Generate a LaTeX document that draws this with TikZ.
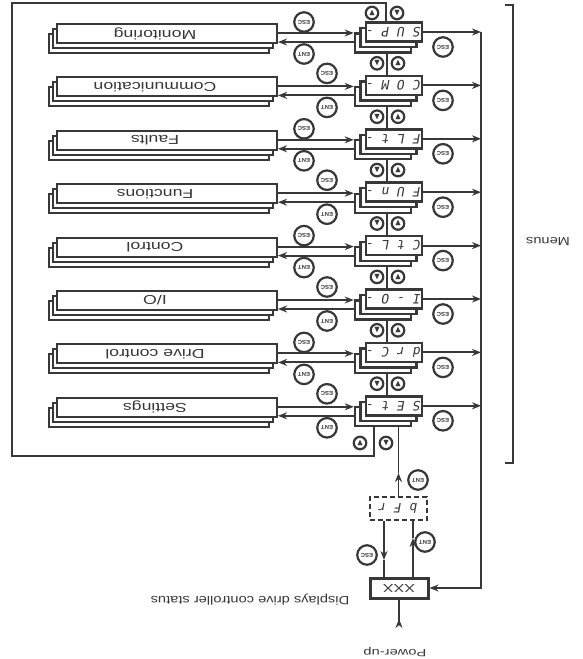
\documentclass[tikz,border=0pt]{standalone}
\usepackage{fontspec}
\usepackage{amssymb}
\usepackage{graphicx}
\setmainfont{Liberation Sans}
\newfontfamily\segfont[FakeSlant=0.18]{DejaVu Sans Mono}
\usetikzlibrary{arrows.meta,calc,shadows}
\definecolor{ink}{HTML}{383838}
% whole figure is printed upside down (and its lettering is wide)
\newcommand{\ud}[2][1]{\rotatebox[origin=c]{180}{\scalebox{#1}[1]{#2}}}

\begin{document}
\begin{tikzpicture}[x=1pt, y=-1pt, color=ink, line width=1.9pt,
                    >={Stealth[length=9pt,width=7pt]},
  menubox/.style={draw, fill=white, line width=2.1pt, minimum width=220pt,
                  minimum height=19pt, inner sep=0pt, font=\fontsize{13}{14}\selectfont,
                  copy shadow={shadow xshift=-8pt, shadow yshift=-10pt, fill=white, draw=ink, line width=2.1pt},
                  copy shadow={shadow xshift=-4pt, shadow yshift=-5pt, fill=white, draw=ink, line width=2.1pt}},
  dispbox/.style={draw, fill=white, line width=2.6pt, minimum width=56pt,
                  minimum height=19pt, inner sep=0pt, font=\segfont\fontsize{13}{13}\selectfont,
                  copy shadow={shadow xshift=-11pt, shadow yshift=-11pt, fill=white, draw=ink, line width=2.2pt},
                  copy shadow={shadow xshift=-5.5pt, shadow yshift=-5.5pt, fill=white, draw=ink, line width=2.2pt}},
  keyc/.style={circle, draw, fill=white, line width=2.2pt, minimum size=19.5pt,
               inner sep=0pt, font=\fontsize{5.5}{5.5}\selectfont\bfseries},
  btn/.style={circle, draw, fill=white, line width=2.2pt, minimum size=12.5pt,
              inner sep=0pt, font=\fontsize{9}{9}\selectfont},
  txt/.style={inner sep=0pt}]
\useasboundingbox (0,0) rectangle (582,659);

% menus and their displays
\foreach \lab/\seg [count=\i from 0] in {Monitoring/S U P -, Communication/C O M -,
    Faults/F L t -, Functions/F U n -, Control/C t L -, {I/O}/I - O -,
    Drive control/d r C -, Settings/S E t -} {
  \pgfmathsetmacro\y{32+53.4*\i}
  \pgfmathsetmacro\kx{ifthenelse(mod(\i,2)==0,304,327)}
  \pgfmathsetmacro\eo{ifthenelse(mod(\i,2)==0,-10,-12)}
  \node[menubox] (m\i) at (167,\y+1.5) {\ud[1.36]{\lab}\kern24pt};
  \node[dispbox] (d\i) at (394,\y) {\ud{\seg}};
  \coordinate (b\i) at (481,\y);
  \draw[->] (d\i.east) -- (b\i);
  \draw[->] ($(m\i.east)+(0,-0.5)$) -- ($(d\i.west)+(-11,1)$);
  \draw[->] ($(d\i.west)+(-11,10)$) -- ($(m\i.east)+(0,8.5)$);
  \node[keyc] (e\i) at (\kx,\y+\eo) {\ud[1.1]{ESC}};
  \node[keyc] (n\i) at (\kx,\y+22) {\ud[1.1]{ENT}};
  \node[keyc] (r\i) at (443,\y+15) {\ud[1.1]{ESC}};
}

% scrolling between displays
\foreach \i [evaluate=\i as \j using int(\i+1)] in {0,...,6} {
  \pgfmathsetmacro\y{32+53.4*\i+31.3}
  \draw ($(d\i.south)+(-7,10)$) -- ($(d\j.north)+(-7,0)$);
  \node[btn] (dn\i) at (377,\y) {$\blacktriangledown$};
  \node[btn] (up\i) at (398,\y) {$\blacktriangle$};
}
\node[btn] (upt) at (372,13) {$\blacktriangle$};
\node[btn] (dnt) at (397,13) {$\blacktriangledown$};
\node[btn] (upb) at (360,443) {$\blacktriangle$};
\node[btn] (dnb) at (386,443) {$\blacktriangledown$};
\draw ($(d0.north)+(-8,0)$) |- (12,3) |- (374,456) -- ($(d7.south)+(-20,10)$);

% power-up part
\node[draw, dashed, dash pattern=on 5pt off 3pt, minimum width=57pt, minimum height=23pt,
      inner sep=0pt, font=\segfont\fontsize{13}{13}\selectfont] (bfr) at (398.5,508.5) {\ud{b F r}};
\node[draw, line width=3pt, minimum width=58pt, minimum height=20pt, inner sep=0pt,
      font=\fontsize{11.5}{12}\selectfont] (x) at (399,588) {\ud[1.4]{XXX}};
\coordinate (u) at (398.5,473);
\coordinate (v) at (384,560);
\coordinate (w) at (413,538);
\coordinate (p) at (399,628);
\draw[->] (bfr.north) -- (u);
\draw (u) -- ($(d7.south)+(4.5,10)$);
\draw[->] ($(bfr.south)+(-14.5,0)$) -- (v);
\draw (v) -- ($(x.north)+(-15,0)$);
\draw[->] ($(x.north)+(14,0)$) -- (w);
\draw (w) -- ($(bfr.south)+(14.5,0)$);
\draw[->] (b0) |- (x.east);
\draw[{Stealth[length=9pt,width=7pt,reversed]}-] (p) -- (x.south);
\node[keyc] (ent1) at (418,480) {\ud[1.1]{ENT}};
\node[keyc] (esc2) at (367,555) {\ud[1.1]{ESC}};
\node[keyc] (ent2) at (425,542) {\ud[1.1]{ENT}};

\node[txt, font=\fontsize{10.5}{11}\selectfont] (pu) at (395,652) {\ud[1.4]{Power-up}};
\node[txt, font=\fontsize{12}{13}\selectfont] (st) at (250,600) {\ud[1.22]{Displays drive controller status}};

% bracket
\draw (505,5) -| (513,463) -- (505,463);
\node[txt, font=\fontsize{11.8}{12}\selectfont] (mn) at (548,241) {\ud[1.24]{Menus}};
\end{tikzpicture}
\end{document}
